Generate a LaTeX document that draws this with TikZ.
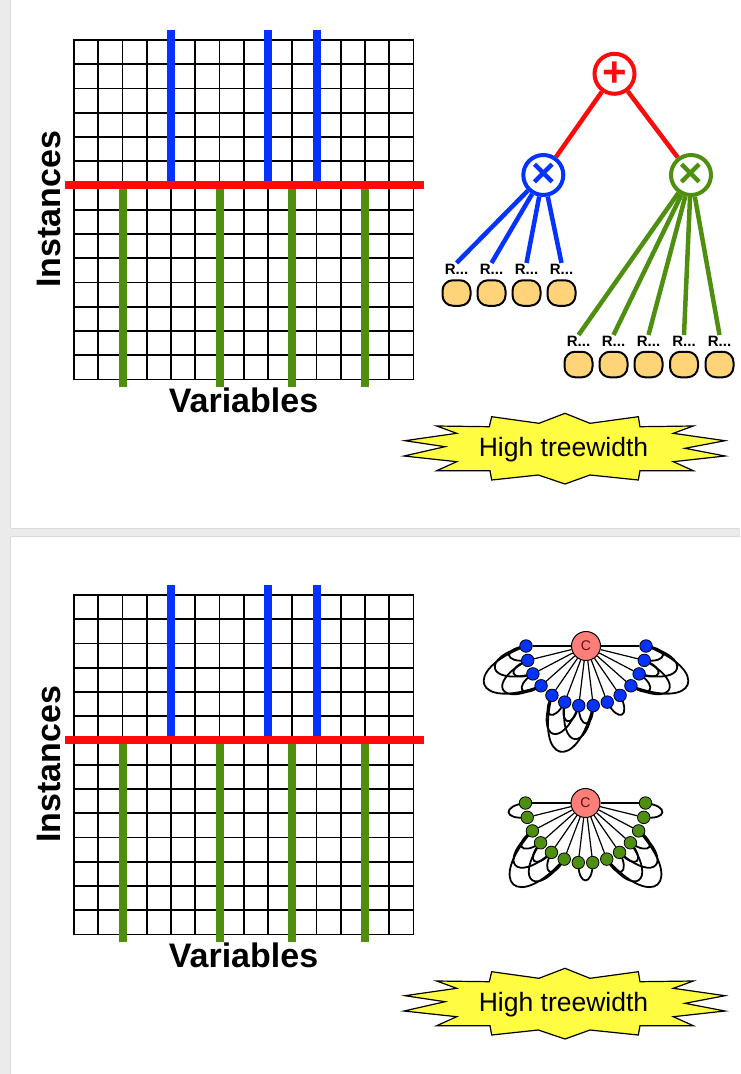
\documentclass[tikz,border=0pt]{standalone}
\usepackage{fontspec}
\setmainfont{Liberation Sans}
\usetikzlibrary{calc}
\definecolor{cred}{HTML}{FF0A0A}
\definecolor{cblue}{HTML}{0433FF}
\definecolor{cgreen}{HTML}{4F8F10}
\definecolor{corange}{HTML}{FFD479}
\definecolor{cyellow}{HTML}{FFFC41}
\definecolor{csalmon}{HTML}{FF7E79}
\definecolor{cgray}{HTML}{EBEBEB}
\definecolor{cline}{HTML}{DADADA}
\definecolor{cdark}{HTML}{5C1010}
\pgfdeclarelayer{bg}
\pgfdeclarelayer{edges}
\pgfsetlayers{bg,edges,main}
\tikzset{
  gridline/.style={line width=1.8pt, line cap=rect},
  bluebar/.style={cblue, line width=8pt},
  greenbar/.style={cgreen, line width=8pt},
  redbar/.style={cred, line width=8pt},
  axislabel/.style={font=\fontsize{34}{38}\selectfont\bfseries, inner sep=0pt, anchor=base},
  opnode/.style={circle, minimum size=40pt, line width=4pt, fill=white, inner sep=0pt},
  opsym/.style={font=\fontsize{42}{42}\selectfont\bfseries, inner sep=0pt},
  treeedge/.style={line width=4.5pt},
  rlabel/.style={font=\fontsize{15}{16}\selectfont\bfseries, inner sep=1pt, anchor=base},
  leaf/.style={rectangle, rounded corners=10.5pt, minimum width=28pt, minimum height=25.5pt, fill=corange, draw=black, line width=2pt, inner sep=0pt},
  burst/.style={fill=cyellow, draw=black, line width=1.2pt, line join=miter},
  bursttext/.style={font=\fontsize{26.5}{30}\selectfont, inner sep=0pt, anchor=base},
  cnode/.style={circle, minimum size=29pt, fill=csalmon, draw=black, line width=1pt, inner sep=0pt, font=\fontsize{14}{14}\selectfont, text=cdark},
  bnode/.style={circle, minimum size=12.5pt, inner sep=0pt, fill=cblue, draw=black, line width=0.8pt},
  gnode/.style={circle, minimum size=12.5pt, inner sep=0pt, fill=cgreen, draw=black, line width=0.8pt},
  spoke/.style={line width=1.2pt},
  wing/.style={line width=1.8pt},
}
\newcommand\wk{1.65}
\newcommand\wingpairs[2]{%
  \foreach \a/\b in {#2} {%
    \draw[wing] let \p1=(#1\a.center), \p2=(#1\b.center) in
      (\p1) .. controls ({\x1+\wk*(\y2-\y1)},{\y1-\wk*(\x2-\x1)})
               and ({\x2+\wk*(\y2-\y1)},{\y2-\wk*(\x2-\x1)}) .. (\p2);
  }%
}
\newcommand\datapanel[2]{%
\begin{scope}[shift={(0,#1)}]
  \foreach \i in {0,...,14} {
    \draw[gridline] ({74+\i*24.25},40) -- ({74+\i*24.25},379.5);
    \draw[gridline] (74,{40+\i*24.25}) -- (413.5,{40+\i*24.25});
  }
  \foreach \xx in {171,268,316.5} \draw[bluebar] (\xx,30) -- (\xx,185);
  \foreach \xx in {122.5,219.5,292.25,365} \draw[greenbar] (\xx,185) -- (\xx,387);
  \draw[redbar] (65,185) -- (424,185);
  \node[axislabel, rotate=90] (inst#2) at (60,209.5) {Instances};
  \node[axislabel] (var#2) at (243.5,412.7) {Variables};
  \draw[burst] (565,413.3) -- (539,423.3) -- (491.7,416.7) -- (489.3,426.7) -- (436.7,426) -- (456.7,433.3) -- (405,440.7) -- (445,446.7) -- (404,456) -- (456.7,461.7) -- (436.7,470.7) -- (490,470.7) -- (491.7,480) -- (538.3,475) -- (565,484) -- (590,475) -- (638.3,480) -- (640,470.7) -- (693.3,470.7) -- (673.3,461.7) -- (725,456) -- (685,448.3) -- (725,440.7) -- (673.3,433.3) -- (693.3,426) -- (640,426.7) -- (638.3,416.7) -- (590,423.3) -- cycle;
  \node[bursttext] (hw#2) at (563.5,456.5) {High treewidth};
\end{scope}}
\begin{document}
\begin{tikzpicture}[x=1pt,y=-1pt]
\useasboundingbox (0,0) rectangle (740,1074);
\begin{pgfonlayer}{bg}
  \fill[cgray] (0,0) rectangle (740,1074);
  \fill[white] (10.5,0) rectangle (740,528);
  \fill[white] (10.5,536.5) rectangle (740,1074);
  \draw[cline, line width=0.8pt] (10.5,528.4) -- (740,528.4);
  \draw[cline, line width=0.8pt] (10.5,536.1) -- (740,536.1);
  \draw[cline, line width=0.6pt] (10.3,0) -- (10.3,528);
  \draw[cline, line width=0.6pt] (10.3,536.5) -- (10.3,1074);
\end{pgfonlayer}

\datapanel{0}{a}
\datapanel{555}{b}

% sum-product tree
\node[opnode, draw=cred, label={[opsym, text=cred]center:+}] (plus) at (614.5,73.8) {};
\node[opnode, draw=cblue, label={[opsym, text=cblue]center:×}] (bx) at (543.3,175) {};
\node[opnode, draw=cgreen, label={[opsym, text=cgreen]center:×}] (gx) at (691,175) {};
\foreach \i/\xx in {1/456.5,2/491.5,3/526.5,4/561.5} {
  \node[rlabel] (bl\i) at (\xx,274.5) {R...};
  \node[leaf] (bf\i) at (\xx,293) {};
}
\foreach \i/\xx in {1/578.5,2/613.5,3/648.5,4/684,5/719.5} {
  \node[rlabel] (gl\i) at (\xx,346.5) {R...};
  \node[leaf] (gf\i) at (\xx,364.5) {};
}
\begin{pgfonlayer}{edges}
  \draw[treeedge, cred] (plus) -- (bx);
  \draw[treeedge, cred] (plus) -- (gx);
  \foreach \i in {1,...,4} \draw[treeedge, cblue] (bx) -- (bl\i.north);
  \foreach \i in {1,...,5} \draw[treeedge, cgreen] (gx) -- (gl\i.north);
\end{pgfonlayer}

% graphs
\foreach \i in {1,...,14} {
  \pgfmathsetmacro\ang{180-(\i-1)*180/13}
  \node[bnode] (u\i) at ({586+60*cos(\ang)},{646+60*sin(\ang)}) {};
  \node[gnode] (g\i) at ({585.5+60*cos(\ang)},{803+60*sin(\ang)}) {};
}
\node[cnode] (cu) at (586,646) {C};
\node[cnode] (cg) at (585.5,803) {C};
\begin{pgfonlayer}{edges}
  \foreach \i in {1,...,14} {
    \draw[spoke] (cu) -- (u\i);
    \draw[spoke] (cg) -- (g\i);
  }
  \wingpairs{u}{1/2,1/3,1/4,2/3,2/4,3/4,5/6,5/7,5/8,6/7,6/8,7/8,9/10,11/12,11/13,11/14,12/13,12/14,13/14}
  \wingpairs{g}{1/2,3/4,3/5,3/6,4/5,4/6,5/6,7/8,9/10,9/11,9/12,10/11,10/12,11/12,13/14}
\end{pgfonlayer}
\end{tikzpicture}
\end{document}
